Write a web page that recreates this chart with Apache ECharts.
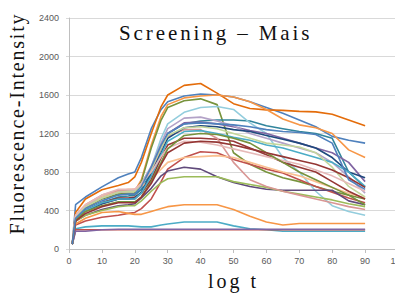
<!DOCTYPE html>
<html>
<head>
<meta charset="utf-8">
<script src="https://cdn.jsdelivr.net/npm/echarts@6/dist/echarts.min.js"></script>
<style>
  html, body { margin: 0; padding: 0; background: #fff; }
  #chart { width: 395px; height: 295px; }
</style>
</head>
<body>
<div id="chart"></div>
<script>
// time points (log t)
const xTimes = [1, 2, 5, 10, 15, 18, 20, 22, 25, 28, 30, 35, 40, 45, 50, 55, 60, 65, 70, 75, 80, 85, 90];

// one array per well
const s01 = [50, 460, 540, 645, 740, 780, 800, 950, 1250, 1450, 1530, 1590, 1610, 1600, 1580, 1530, 1470, 1410, 1340, 1270, 1170, 1130, 1100];
const s02 = [50, 380, 520, 615, 660, 690, 750, 900, 1200, 1480, 1600, 1700, 1720, 1620, 1510, 1460, 1445, 1440, 1430, 1425, 1400, 1340, 1280];
const s03 = [50, 340, 440, 540, 590, 600, 600, 720, 1080, 1380, 1500, 1570, 1590, 1600, 1580, 1530, 1450, 1350, 1290, 1260, 1200, 1030, 950];
const s04 = [50, 330, 430, 520, 570, 580, 580, 700, 1050, 1340, 1470, 1540, 1560, 1500, 1000, 880, 800, 740, 700, 650, 600, 560, 520];
const s05 = [50, 300, 400, 480, 540, 550, 560, 620, 800, 1050, 1200, 1300, 1330, 1340, 1340, 1330, 1280, 1250, 1220, 1200, 1150, 800, 640];
const s06 = [50, 340, 450, 540, 600, 610, 610, 680, 850, 1150, 1300, 1420, 1470, 1480, 1450, 1310, 1200, 950, 800, 600, 450, 390, 350];
const s07 = [50, 300, 390, 470, 520, 520, 520, 580, 760, 1050, 1200, 1310, 1320, 1300, 1270, 1230, 1200, 1150, 1100, 1050, 1000, 900, 700];
const s08 = [50, 250, 290, 330, 350, 370, 380, 420, 520, 700, 830, 950, 1010, 1000, 930, 880, 830, 790, 720, 650, 590, 530, 480];
const s09 = [50, 290, 350, 410, 450, 460, 470, 530, 630, 760, 810, 850, 830, 750, 690, 650, 620, 610, 610, 610, 610, 500, 460];
const s10 = [50, 290, 350, 400, 440, 450, 450, 500, 600, 690, 730, 750, 750, 750, 700, 670, 640, 600, 570, 540, 510, 470, 440];
const s11 = [50, 330, 440, 540, 600, 620, 620, 650, 720, 830, 900, 950, 960, 970, 950, 900, 850, 800, 760, 700, 640, 580, 530];
const s12 = [50, 210, 230, 240, 240, 240, 235, 230, 230, 250, 260, 280, 280, 280, 240, 210, 200, 185, 185, 185, 185, 185, 185];
const s13 = [50, 260, 320, 380, 390, 370, 360, 360, 390, 420, 440, 460, 460, 460, 410, 340, 280, 250, 265, 265, 265, 265, 265];
const s14 = [50, 200, 200, 200, 200, 200, 200, 200, 200, 200, 200, 200, 200, 200, 200, 200, 200, 200, 200, 200, 200, 200, 200];
const s15 = [50, 185, 185, 200, 205, 205, 205, 205, 205, 205, 205, 205, 205, 205, 205, 205, 205, 205, 205, 205, 205, 205, 205];
const s16 = [50, 310, 400, 480, 530, 530, 540, 580, 720, 950, 1080, 1150, 1150, 1140, 1120, 1050, 980, 900, 850, 800, 700, 600, 520];
const s17 = [50, 350, 460, 560, 610, 610, 620, 680, 820, 1050, 1170, 1240, 1240, 1150, 900, 720, 650, 600, 560, 520, 480, 440, 410];
const s18 = [50, 340, 440, 530, 590, 600, 600, 680, 860, 1100, 1250, 1360, 1370, 1330, 1280, 1200, 1150, 1100, 1050, 1000, 900, 750, 580];
const s19 = [50, 310, 400, 470, 520, 520, 530, 590, 780, 1000, 1150, 1260, 1280, 1270, 1240, 1220, 1180, 1140, 1100, 1050, 950, 800, 740];
const s20 = [50, 310, 400, 480, 520, 520, 520, 580, 760, 980, 1120, 1220, 1230, 1200, 1160, 1130, 1080, 1050, 1000, 950, 900, 800, 650];
const s21 = [50, 330, 440, 530, 590, 600, 600, 670, 830, 1050, 1180, 1260, 1270, 1250, 1200, 1150, 1100, 1080, 1060, 1000, 850, 650, 540];
const s22 = [50, 350, 460, 560, 620, 620, 620, 680, 800, 960, 1050, 1120, 1110, 1080, 1040, 1000, 960, 920, 880, 820, 760, 680, 600];
const s23 = [50, 300, 390, 450, 490, 490, 490, 540, 700, 900, 1040, 1180, 1200, 1190, 1150, 1100, 1000, 900, 800, 720, 640, 560, 460];
const s24 = [50, 290, 370, 440, 480, 480, 480, 540, 680, 880, 1000, 1100, 1120, 1110, 1080, 1040, 1000, 960, 920, 880, 820, 740, 640];
const s25 = [50, 320, 420, 500, 560, 570, 570, 650, 850, 1080, 1200, 1300, 1310, 1300, 1290, 1270, 1240, 1220, 1210, 1190, 1100, 720, 620];

const wells = [s01, s02, s03, s04, s05, s06, s07, s08, s09, s10, s11, s12, s13, s14, s15,
               s16, s17, s18, s19, s20, s21, s22, s23, s24, s25];
const wellColors = ['#4F81BD', '#E46C0A', '#F79646', '#77933C', '#31859C', '#93CDDD', '#8064A2', '#C0504D',
                    '#604A7B', '#9BBB59', '#FAC090', '#4BACC6', '#F79646', '#C0504D', '#8064A2',
                    '#953735', '#D99694', '#B3A2C7', '#1F497D', '#4BACC6', '#C3D69B', '#E6B9B8', '#76923C',
                    '#943634', '#4F81BD'];

const xTicks = [0, 100, 10];   // min, max, step
const yTicks = [0, 2400, 400];

let chartDom = document.getElementById('chart');
let chart = echarts.init(chartDom, null, { renderer: 'svg' });

const serif = "'Liberation Serif', 'DejaVu Serif', serif";
const axisLabelStyle = { color: '#595959', fontSize: 9, fontFamily: 'Liberation Sans' };

option = {
    animation: false,
    backgroundColor: '#fff',
    title: {
        text: 'Screening – Mais',
        left: 119,
        top: 22,
        padding: 0,
        textStyle: { fontFamily: serif, fontSize: 21, fontWeight: 'normal', color: '#111' }
    },
    grid: { left: 69, top: 18, width: 329, height: 231, outerBoundsMode: 'none', containLabel: false },
    xAxis: {
        type: 'value',
        min: xTicks[0],
        max: xTicks[1],
        interval: xTicks[2],
        name: 'log t',
        nameLocation: 'middle',
        nameGap: 22,
        nameTextStyle: { fontFamily: serif, fontSize: 20, color: '#111' },
        axisLine: { show: true, lineStyle: { color: '#BFBFBF' } },
        axisTick: { show: true, length: 4, lineStyle: { color: '#BFBFBF' } },
        axisLabel: Object.assign({ margin: 7, hideOverlap: false, showMaxLabel: true }, axisLabelStyle),
        splitLine: { show: false }
    },
    yAxis: {
        type: 'value',
        min: yTicks[0],
        max: yTicks[1],
        interval: yTicks[2],
        name: 'Fluorescence-Intensity',
        nameLocation: 'middle',
        nameGap: 42,
        nameTextStyle: { fontFamily: serif, fontSize: 20, color: '#111', padding: [0, 0, 0, 20] },
        axisLine: { show: true, lineStyle: { color: '#BFBFBF' } },
        axisTick: { show: true, length: 3, lineStyle: { color: '#D9D9D9' } },
        axisLabel: Object.assign({ margin: 10, formatter: v => String(v) }, axisLabelStyle),
        splitLine: { show: true, lineStyle: { color: '#D9D9D9' } }
    },
    series: wells.map((vals, i) => ({
        type: 'line',
        data: xTimes.map((t, k) => [t, vals[k]]),
        showSymbol: false,
        silent: true,
        lineStyle: { width: 1.6, color: wellColors[i] },
        itemStyle: { color: wellColors[i] }
    }))
};
chart.setOption(option);

// the serif captions are set with wide letter spacing in the original
const spacing = { 'Screening – Mais': '2.9px', 'Fluorescence-Intensity': '1.8px', 'log t': '3px' };
chartDom.querySelectorAll('text').forEach(t => {
    const s = spacing[t.textContent];
    if (s) t.setAttribute('letter-spacing', s);
});
</script>
</body>
</html>
